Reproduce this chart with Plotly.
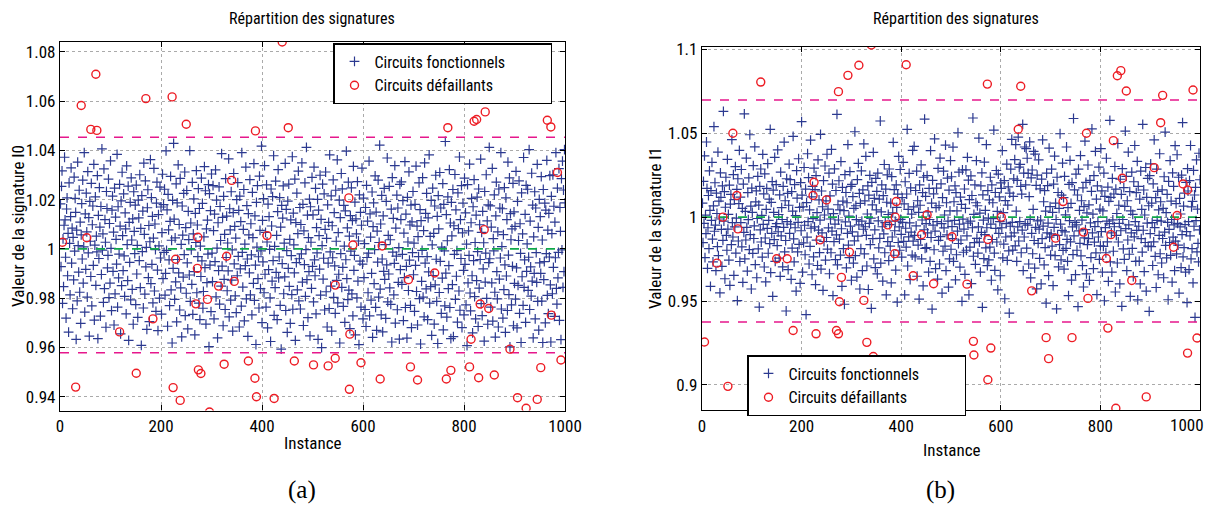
import plotly.graph_objects as go

# ---------------- DATA ----------------
# Panel (a): signature I0 of the functional circuits, deviation from 1 in units of 1e-4, instances 1..N
ecart_I0_fonct_e4 = [
 183,-72,254,317,-221,41,-153,96,372,118,-34,-281,162,207,-109,63,-338,268,22,-187,131,329,-58,84,-243,
 47,-126,291,-9,205,148,-367,76,-211,352,13,-94,238,-176,109,-302,57,184,-41,279,-139,8,391,-257,142,
 -83,226,69,-196,314,-16,127,-354,193,31,-112,266,-231,98,174,-67,343,-289,15,211,-148,52,-12,297,-364,
 136,-39,249,88,-273,172,-104,406,-5,61,-217,325,-161,119,27,-318,233,164,-77,-26,283,-198,103,-139,357,
 2,-251,157,214,-91,68,-309,247,-183,129,39,-62,384,-236,171,-118,-21,262,92,-345,195,-149,311,54,-88,
 223,-28,-193,146,81,-264,337,17,-129,255,-371,108,-55,189,-207,288,36,-164,122,-306,232,71,-19,178,-226,
 259,-102,14,-278,198,126,-48,301,-157,83,-392,216,-11,153,-240,348,59,-184,276,-73,6,-327,167,240,-117,
 95,-295,29,362,-141,208,-63,132,-219,44,327,-171,101,-3,-254,186,271,-86,-332,139,12,-200,251,-37,170,
 -265,66,303,-121,180,-14,242,-188,-99,398,-6,158,-314,221,77,-45,-230,112,294,-166,35,-382,197,-79,428,
 121,-205,45,-134,264,-296,187,-43,341,-97,99,-248,286,-158,18,-357,174,56,-115,225,-23,312,-271,86,-180,
 237,-57,-325,152,38,-106,399,-213,105,-4,-144,270,-266,61,203,-92,-349,144,26,318,-178,97,-31,245,-220,
 164,-287,11,-112,287,-49,185,-241,-173,49,334,-76,236,-305,81,-137,117,-21,261,-397,224,-66,155,-255,304,
 -17,-133,257,74,-284,141,-52,321,-195,198,3,-361,106,-88,252,-224,172,34,-151,387,-70,128,-312,213,-124,
 59,-246,285,-35,133,-170,24,-89,365,-276,163,77,-208,232,-127,-4,-334,147,306,-61,91,-191,44,-259,200,
 -109,269,-30,156,-317,214,-81,111,-232,391,-14,-155,79,241,-292,19,-68,332,-203,176,-41,-355,143,57,-97,
 281,-187,102,-24,-268,229,46,-140,346,-209,134,-66,-388,189,7,257,-121,-32,-240,295,75,-161,-8,417,-299,
 116,-53,204,-178,338,-103,67,-236,260,28,-321,182,-84,131,-2,-199,-376,243,93,-131,212,-48,378,-270,10,
 -157,275,-95,55,-287,151,322,-118,-33,208,-229,88,-407,177,-60,125,256,-182,23,-114,347,-250,160,-7,-339,
 194,-79,263,-152,39,-302,118,-27,-186,374,-245,145,16,-97,283,-371,107,-56,226,-166,62,316,-211,-40,168,
 -244,99,-20,349,-135,181,-311,73,-64,268,-193,-3,412,-125,137,-279,46,-92,202,-353,171,27,-160,290,-71,
 138,-215,332,-45,-109,246,-264,86,-16,201,-367,157,54,-82,299,-188,120,-401,13,263,-123,-38,223,-248,79,
 312,-174,43,-317,179,-58,108,-242,382,-12,-151,215,-334,94,-36,280,-197,147,-69,-262,238,31,-128,361,-219,
 66,-103,198,-382,127,-19,306,-156,244,-75,-233,177,11,-298,154,-44,397,-121,85,-206,271,-167,52,-324,135,
 -9,248,-183,115,-272,335,-87,-26,190,-349,122,61,-199,273,-131,32,-389,219,-50,148,-236,96,328,-62,-284,
 206,-117,21,-246,168,-315,258,-35,113,-178,-17,356,-272,142,48,-208,-99,231,-359,90,187,-141,-3,296,-237,
 149,-331,72,-54,279,-196,26,421,-163,101,-268,217,-41,-337,134,-91,246,-124,17,-282,193,-65,369,-215,55,
 -102,254,-158,37,-225,161,-378,289,-13,124,-187,-59,338,-301,84,-29,218,-247,166,-136,5,-366,262,-84,119,
 272,-144,-22,196,-291,64,-117,354,-238,141,-71,-362,209,28,-169,313,-46,97,-229,178,-320,110,-15,233,-105,
 23,-254,181,-67,336,-173,92,-309,50,-31,268,-202,159,-386,115,-132,-6,289,-196,74,-276,349,-58,144,-162,
 225,-31,-287,126,-93,382,-220,51,-153,197,-351,16,247,-108,63,-305,174,-146,299,-42,-213,132,-384,216,81,
 -177,310,-51,166,-262,7,-119,265,-329,181,-8,-231,436,-98,139,-277,33,211,-161,-68,322,-238,105,-364,189,
 53,-145,241,-356,94,-22,302,-205,158,-111,-7,-297,227,82,-171,373,-249,119,-39,257,-320,65,186,-87,-268,
 287,-63,146,-227,19,-393,261,-138,73,-26,344,-179,-252,106,205,-109,-341,171,-48,281,-194,26,-284,137,-129,
 210,-11,-315,243,-159,98,-43,364,-222,67,-271,152,-81,25,-374,233,-135,-17,301,-201,114,-306,179,-56,412,
 -40,175,-236,88,-138,327,-293,42,-8,219,-176,-358,134,271,-92,-203,69,-317,243,-123,166,-37,391,-244,9,
 163,-281,58,-165,249,-65,-339,207,-110,119,-250,352,-25,-186,288,-398,143,37,-227,81,-71,266,-312,150,-140,
 91,-204,315,-77,-321,193,-148,34,276,-262,102,-18,-380,227,-113,61,-229,371,-156,-45,140,-298,258,-91,20,
 242,-168,-34,403,-246,113,-73,-192,307,-131,178,-361,49,-99,232,-284,166,-15,-136,343,-213,87,-330,201,-57,
 131,-99,293,-212,36,-380,241,-125,-52,186,-300,157,-19,359,-189,76,-263,144,-33,297,-146,-378,213,62,-182,
 301,-75,173,-274,109,-36,391,-160,-224,247,-118,-14,326,-290,168,71,-368,285,-4,356,-156,239,-92,403,187,
]

# Panel (a): faulty circuits (instance, signature I0)
inst_I0_defaill = [5,31,42,53,61,71,73,118,151,170,184,222,224,229,238,250,269,272,273,274,
                   279,292,296,314,325,330,340,345,373,386,387,389,410,424,440,452,464,502,531,545,
                   545,572,573,574,580,596,634,638,690,694,708,742,765,768,774,811,814,820,825,829,
                   832,840,842,849,860,891,906,923,945,952,965,972,973,985,992]
sig_I0_defaill = [1.0027,0.9439,1.0582,1.0045,1.0485,1.0709,1.0481,0.9663,0.9495,1.0610,
                  0.9716,1.0617,0.9437,0.9958,0.9385,1.0506,0.9777,0.9921,1.0047,0.9509,
                  0.9494,0.9795,0.9338,0.9849,0.9532,0.9970,1.0278,0.9868,0.9545,0.9475,
                  1.0479,0.9400,1.0054,0.9393,1.0840,1.0492,0.9545,0.9529,0.9525,0.9853,
                  0.9556,1.0207,0.9430,0.9654,1.0016,0.9538,0.9472,1.0012,0.9875,0.9521,
                  0.9468,0.9902,0.9472,1.0492,0.9507,0.9521,0.9633,1.0518,1.0525,0.9477,
                  0.9776,1.0078,1.0556,0.9758,0.9488,0.9593,0.9396,0.9353,0.9389,0.9518,
                  1.0522,1.0495,0.9731,1.0310,0.9549]
seuils_I0 = [0.9578, 1.0453]
nominal = 1.0

# Panel (b): signature I1 of the functional circuits, deviation from 1 in units of 1e-4
ecart_I1_fonct_e4 = [
 84,-152,213,-37,365,-241,12,-98,448,171,-305,-63,129,-188,276,41,-412,158,-19,327,-131,-266,67,539,-84,
 205,-47,-318,143,22,-176,387,-229,96,-11,-451,264,118,-73,-293,186,-138,631,-24,152,-367,59,238,-109,-197,
 344,-71,17,-256,191,-406,78,136,-163,462,-32,-118,253,-347,104,-58,301,-214,-6,166,-497,229,-142,81,398,
 -264,119,-33,284,-177,53,-389,197,-91,615,-248,34,-136,352,-61,-322,146,-15,234,-193,491,-104,66,-428,173,
 28,-216,307,-127,-52,419,-283,91,157,-361,-8,243,-189,72,-536,183,-76,287,-148,11,-238,374,-43,139,-297,
 258,-124,-385,46,172,-67,319,-215,-19,107,-158,523,-331,88,-97,212,-472,161,29,-134,356,-263,-56,194,-38,
 -169,401,-87,16,-244,133,-353,268,-112,57,-14,-296,183,-61,447,-207,98,-139,-559,229,-27,142,-312,71,316,
 -96,224,-42,-371,152,-185,36,481,-129,-266,194,-63,9,-441,277,113,-207,-31,348,-162,58,-395,206,-81,569,
 131,-327,62,-153,296,-48,-224,167,-581,87,-119,378,-26,236,-279,43,-174,459,-66,121,-343,184,-9,-237,292,
 -58,164,-402,248,-137,27,-288,341,-77,103,-211,-18,493,-309,156,-94,62,-436,218,-145,13,305,-256,97,-121,
 375,-190,48,-64,263,-337,127,-11,-212,404,-83,197,-468,21,-146,288,-41,-253,159,-105,612,-284,74,-17,217,
 -131,43,-226,331,-69,-412,178,96,-188,39,-519,254,-28,147,-302,86,-96,432,-167,6,-241,271,-53,183,-376,
 196,-88,122,-274,53,-141,509,-229,68,-15,-357,224,-113,321,-46,142,-428,82,-187,276,-24,-319,163,-72,437,
 -219,97,-57,362,-108,-291,19,186,-431,131,-37,249,-164,-6,-543,207,73,-128,386,-249,112,-76,-301,231,44,
 154,-338,263,-22,-183,107,-126,573,-274,31,192,-57,-381,128,-99,314,-212,-33,167,-463,89,252,-146,16,-259,
 287,-45,-173,83,-392,242,-118,26,446,-227,164,-81,-24,-316,193,58,-506,137,-151,362,-58,-197,284,-13,-102,
 -238,116,-31,327,-144,79,-463,211,-66,-179,138,523,-291,47,-117,261,-34,-372,174,-89,18,-226,398,-143,61,
 422,-108,-236,159,-52,274,-352,98,-167,29,-488,193,71,-133,312,-248,-17,146,-409,238,-75,584,-186,124,-39,
 -181,248,-93,32,-327,171,-14,-263,396,-121,84,-548,219,-47,139,-194,467,-83,-306,57,173,-27,-369,291,-138,
 68,-279,352,-116,198,-39,-452,117,-203,274,-64,13,-172,429,-318,86,-106,233,-23,-417,161,-248,38,337,-191,
 241,-56,-128,417,-263,92,-19,187,-374,146,-224,37,-83,503,-157,268,-41,-298,119,-136,76,-502,282,-12,-209,
 -71,168,-341,53,282,-197,-112,356,-36,221,-463,104,-178,-24,246,-396,129,-63,591,-233,17,-152,193,-281,86,
 337,-126,68,-214,-58,471,-149,24,-327,186,-91,264,-538,133,-18,-247,328,-104,41,-183,432,-63,-289,158,-6,
 -254,103,-179,238,-42,-376,192,-133,86,-9,519,-214,-317,147,-67,278,-148,34,-433,256,-97,121,-26,-349,204,
 171,-63,397,-243,27,-161,218,-486,99,-118,-39,316,-258,72,181,-201,-572,143,-54,286,-113,463,-31,-196,124,
 228,-94,343,-171,432,36,-263,219,-58,477,-142,298,-26,315,184,-212,137,-77,553,-318,262,-118,418,-39,193,
 408,-184,351,-47,261,-279,122,449,-13,-362,234,-96,281,-218,47,392,-139,-304,376,-61,189,-427,251,-22,-156,
 342,-71,-246,169,-17,-398,227,-128,461,-53,92,-284,158,-181,36,-512,263,-94,188,-36,-348,411,-119,63,-226,
 -99,286,-173,28,-408,197,-61,364,-229,84,-14,-547,238,-108,147,-296,52,-163,497,-42,-254,131,-79,322,-198,
 116,-309,243,-88,14,-186,418,-132,-263,57,-468,196,-21,338,-147,82,-375,206,-58,-223,588,-112,163,-31,-342,
 257,-46,-197,132,-533,286,-82,41,-156,367,-231,98,-18,-289,174,-416,63,-123,453,-74,207,-338,26,-164,311,
 -128,73,-377,219,-34,-241,154,526,-93,18,-306,247,-149,-56,392,-213,107,-462,186,-27,-118,298,-252,48,-171,
 408,-86,157,-328,37,-174,263,-498,124,-62,-212,351,-23,-147,179,-383,94,-39,577,-266,118,-94,-328,231,-16,
 -203,138,-57,302,-446,167,-108,22,-273,439,-148,71,-37,-397,226,-81,136,-531,289,-14,-189,176,-252,64,513,
 -68,243,-319,98,-136,387,-46,-221,152,-472,38,-93,268,-186,17,-354,211,-117,427,-27,-263,146,-79,332,-493,
 183,-54,-262,107,-397,274,-128,46,-208,553,-78,162,-324,13,-151,296,-441,118,-36,231,-172,68,-561,247,-98,
 318,-176,84,-33,-288,199,-147,461,-62,-234,117,-419,286,-19,154,-343,43,-109,378,-218,92,-24,-273,163,-127,
 53,-361,241,-89,507,-168,27,-242,136,-31,-492,213,-73,-151,337,-228,96,-14,-387,264,-119,184,-46,-318,426,
 -143,81,-219,372,-37,-166,238,-453,112,-58,19,-301,251,-104,563,-237,66,-182,143,-44,-328,207,-86,-509,289,
 156,-27,-313,218,-112,427,-248,61,-188,94,-391,279,-54,132,-597,178,-21,342,-207,48,-156,-266,381,-76,223,
]

inst_I1_defaill = [5,30,42,52,62,70,72,118,150,171,183,223,225,229,237,250,270,274,274,276,
                   280,293,296,315,325,331,340,344,373,387,388,390,410,424,441,452,465,502,532,545,
                   546,573,574,574,580,601,635,640,662,691,696,710,725,743,766,772,775,812,815,821,
                   826,831,834,841,844,852,863,892,908,921,925,947,954,966,975,975,986,994]
sig_I1_defaill = [0.9256,0.9726,1.0000,0.8992,1.0500,1.0129,0.9930,1.0805,0.9752,0.9752,
                  0.9325,1.0129,1.0208,0.9305,0.9865,1.0103,0.9325,0.9305,1.0748,0.9496,
                  0.9641,1.0845,0.9792,1.0905,0.9504,0.9254,1.1026,0.9170,0.9954,0.9783,
                  1.0000,1.0093,1.0908,0.9651,0.9895,1.0014,0.9603,0.9883,0.9601,0.9260,
                  0.9179,1.0793,0.9867,0.9031,0.9220,1.0000,1.0524,1.0780,0.9561,0.9282,
                  0.9157,0.9875,1.0093,0.9282,0.9911,1.0500,0.9516,0.9754,0.9339,0.9896,
                  1.0456,0.8861,1.0843,1.0873,1.0232,1.0752,0.9623,0.8929,1.0295,1.0563,
                  1.0726,0.9821,1.0010,1.0198,1.0162,0.9190,1.0758,0.9280]
seuils_I1 = [0.9375, 1.0698]

x_ticks = [0, 200, 400, 600, 800, 1000]
x_ticklabels = ["0", "200", "400", "600", "800", "1000"]
y_ticks_I0 = [0.94, 0.96, 0.98, 1.0, 1.02, 1.04, 1.06, 1.08]
y_ticklabels_I0 = ["0.94", "0.96", "0.98", "1", "1.02", "1.04", "1.06", "1.08"]
y_ticks_I1 = [0.9, 0.95, 1.0, 1.05, 1.1]
y_ticklabels_I1 = ["0.9", "0.95", "1", "1.05", "1.1"]

# ---------------- FIGURE ----------------
W, H = 1210, 509
BLUE = "#2B3990"
RED = "#ED1C24"
PINK = "#E6178C"
GREEN = "#10A84A"
FONT = "Liberation Sans Narrow, Roboto Condensed, Roboto, sans-serif"
SERIF = "Liberation Serif, DejaVu Serif, serif"
PAD = "\u00a0" * 11   # widens the legend boxes like the original

inst_I0 = list(range(1, len(ecart_I0_fonct_e4) + 1))
sig_I0_fonct = [nominal + v / 10000 for v in ecart_I0_fonct_e4]
inst_I1 = list(range(1, len(ecart_I1_fonct_e4) + 1))
sig_I1_fonct = [nominal + v / 10000 for v in ecart_I1_fonct_e4]

def px(x):
    return x / W

def py(y):
    return 1 - y / H

fig = go.Figure()

cross = dict(symbol="cross-thin", size=7, color=BLUE, line=dict(width=1.2, color=BLUE))
circ = dict(symbol="circle-open", size=8, color=RED, line=dict(width=1.4, color=RED))

for (xa, ya, leg, ix, sy, idf, sdf, thr) in [
    ("x", "y", "legend", inst_I0, sig_I0_fonct, inst_I0_defaill, sig_I0_defaill, seuils_I0),
    ("x2", "y2", "legend2", inst_I1, sig_I1_fonct, inst_I1_defaill, sig_I1_defaill, seuils_I1),
]:
    fig.add_trace(go.Scatter(x=ix, y=sy, mode="markers", marker=cross,
                             name="Circuits fonctionnels" + PAD, xaxis=xa, yaxis=ya, legend=leg))
    for t in thr:
        fig.add_trace(go.Scatter(x=[x_ticks[0], x_ticks[-1]], y=[t, t], mode="lines",
                                 line=dict(color=PINK, width=1.5, dash="dash"),
                                 showlegend=False, xaxis=xa, yaxis=ya, hoverinfo="skip"))
    fig.add_trace(go.Scatter(x=[x_ticks[0], x_ticks[-1]], y=[nominal, nominal], mode="lines",
                             line=dict(color=GREEN, width=1.6, dash="dash"),
                             showlegend=False, xaxis=xa, yaxis=ya, hoverinfo="skip"))
    fig.add_trace(go.Scatter(x=idf, y=sdf, mode="markers", marker=circ,
                             name="Circuits défaillants" + PAD, xaxis=xa, yaxis=ya, legend=leg))

axis_common = dict(showline=True, linecolor="black", linewidth=1.3, mirror="allticks",
                   ticks="inside", ticklen=5, tickwidth=1, tickcolor="black",
                   showgrid=True, gridcolor="#AAAAAA", griddash="dot", gridwidth=1,
                   zeroline=False, automargin=False,
                   tickfont=dict(family=FONT, size=17, color="black"))

leg_common = dict(xanchor="left", yanchor="top", bordercolor="black", borderwidth=1.5,
                  bgcolor="white", font=dict(family=FONT, size=16, color="black"),
                  itemwidth=30, tracegroupgap=0)

fig.update_layout(
    template="none",
    width=W, height=H, margin=dict(l=0, r=0, t=0, b=0, pad=0),
    paper_bgcolor="white", plot_bgcolor="white",
    xaxis=dict(domain=[px(60), px(565)], range=[0, 1000], anchor="y",
               tickvals=x_ticks, ticktext=x_ticklabels, **axis_common),
    yaxis=dict(domain=[py(410.5), py(41.7)], range=[0.9344, 1.0841], anchor="x",
               tickvals=y_ticks_I0, ticktext=y_ticklabels_I0, **axis_common),
    xaxis2=dict(domain=[px(702), px(1200)], range=[0, 1000], anchor="y2",
                tickvals=x_ticks, ticktext=x_ticklabels[:-1] + [""], **axis_common),
    yaxis2=dict(domain=[py(410), py(47)], range=[0.8851, 1.1014], anchor="x2",
                tickvals=y_ticks_I1, ticktext=y_ticklabels_I1, **axis_common),
    legend=dict(x=px(333), y=py(43), **leg_common),
    legend2=dict(x=px(747), y=py(355), **leg_common),
    showlegend=True,
)

ann = []
for cx in (312, 956):
    ann.append(dict(x=px(cx), y=py(19), text="Répartition des signatures", showarrow=False,
                    xref="paper", yref="paper", xanchor="center", yanchor="middle",
                    font=dict(family=FONT, size=16, color="black")))
# last tick label of panel (b), kept inside the page like the original
ann.append(dict(x=px(1206), y=py(425), text=x_ticklabels[-1], showarrow=False, xref="paper", yref="paper",
                xanchor="right", yanchor="middle", font=dict(family=FONT, size=17, color="black")))
ann.append(dict(x=px(312), y=py(443), text="Instance", showarrow=False, xref="paper", yref="paper",
                xanchor="center", yanchor="middle", font=dict(family=FONT, size=17, color="black")))
ann.append(dict(x=px(951), y=py(450), text="Instance", showarrow=False, xref="paper", yref="paper",
                xanchor="center", yanchor="middle", font=dict(family=FONT, size=17, color="black")))
ann.append(dict(x=px(18), y=py(226), text="Valeur de la signature I0", textangle=-90, showarrow=False,
                xref="paper", yref="paper", xanchor="center", yanchor="middle",
                font=dict(family=FONT, size=17, color="black")))
ann.append(dict(x=px(655), y=py(228), text="Valeur de la signature I1", textangle=-90, showarrow=False,
                xref="paper", yref="paper", xanchor="center", yanchor="middle",
                font=dict(family=FONT, size=17, color="black")))
ann.append(dict(x=px(302), y=py(490), text="(a)", showarrow=False, xref="paper", yref="paper",
                xanchor="center", yanchor="middle", font=dict(family=SERIF, size=25, color="black")))
ann.append(dict(x=px(940), y=py(490), text="(b)", showarrow=False, xref="paper", yref="paper",
                xanchor="center", yanchor="middle", font=dict(family=SERIF, size=25, color="black")))
fig.update_layout(annotations=ann)

fig.write_html("out.html", config={"displayModeBar": False},
               post_script="document.body.style.margin='0px';")
